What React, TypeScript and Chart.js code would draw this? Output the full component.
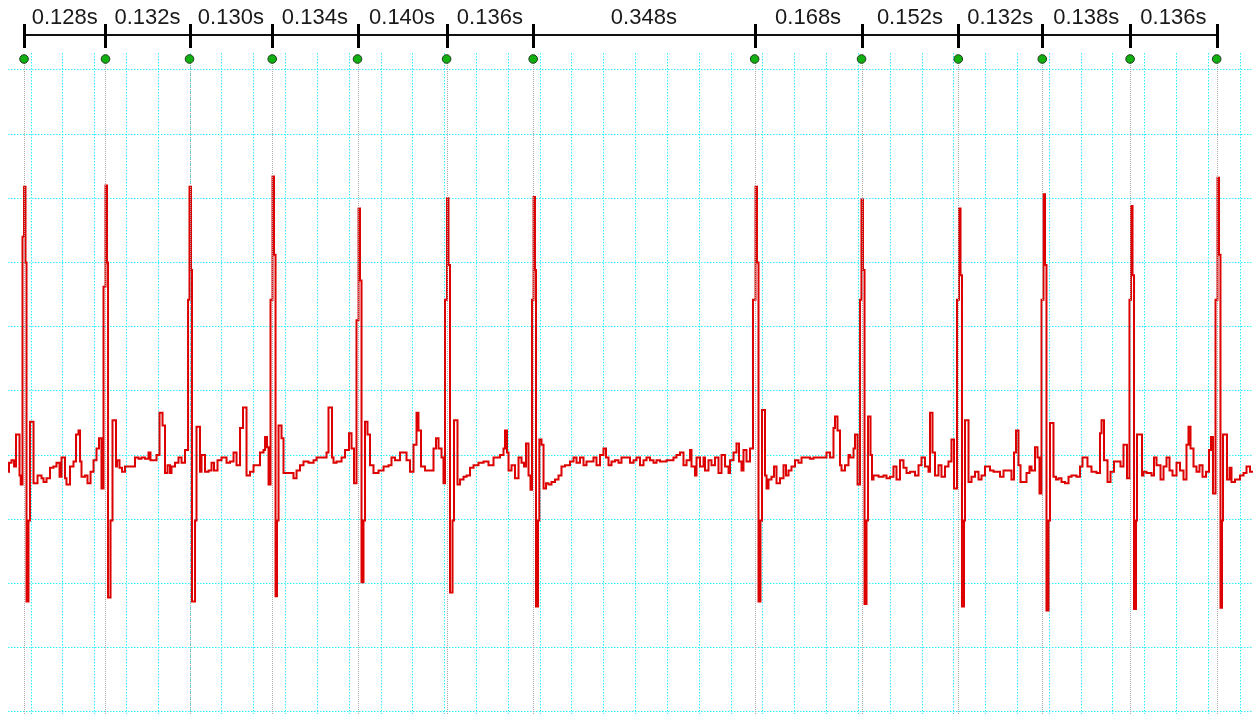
import { useEffect, useRef } from 'react';
import { Chart, registerables } from 'chart.js';

Chart.register(...registerables);

// Beat (R-peak marker) times in seconds
const beatTimes = [0.039, 0.167, 0.299, 0.429, 0.563, 0.703, 0.839, 1.187, 1.355, 1.507, 1.639, 1.777, 1.913];
// R-R interval labels shown between beats
const intervalLabels = ['0.128s', '0.132s', '0.130s', '0.134s', '0.140s', '0.136s', '0.348s', '0.168s', '0.152s', '0.132s', '0.138s', '0.136s'];
// Axis extents (seconds, mV) and grid steps
const timeRange = [0.0138, 1.9701];
const mvRange = [-2.017, 3.131];
const timeGridStep = 0.05;
const mvGridStep = 0.5;

// ECG trace: [time s, amplitude mV], sample-and-hold
const ecgSamples: [number, number][] = [
  [0.0138, -0.13], [0.0154, -0.06], [0.0193, -0.04], [0.0233, -0.09], [0.0264, 0.16], [0.0319, -0.16], [0.0338, -0.23],
  [0.0366, 1.70], [0.0390, 2.09], [0.0413, 1.50], [0.0429, -1.14], [0.0460, -0.51], [0.0484, 0.26], [0.0539, -0.22],
  [0.0602, -0.16], [0.0665, -0.18], [0.0696, -0.21], [0.0743, -0.18], [0.0798, -0.10], [0.0853, -0.09], [0.0900, -0.06],
  [0.0948, -0.17], [0.0979, -0.02], [0.1034, -0.18], [0.1057, -0.23], [0.1112, -0.09], [0.1167, -0.05], [0.1207, 0.16],
  [0.1246, 0.19], [0.1270, -0.05], [0.1293, -0.17], [0.1348, -0.16], [0.1387, -0.22], [0.1435, -0.13], [0.1482, -0.04],
  [0.1529, 0.05], [0.1568, 0.13], [0.1607, -0.26],
  [0.1639, 1.31], [0.1670, 2.10], [0.1694, 1.50], [0.1710, -1.11], [0.1749, -0.51], [0.1780, 0.27], [0.1835, -0.09],
  [0.1851, -0.04], [0.1890, -0.10], [0.1930, -0.13], [0.1977, -0.09], [0.2134, -0.02], [0.2189, -0.03], [0.2236, -0.02],
  [0.2291, -0.03], [0.2346, 0.02], [0.2377, -0.04], [0.2472, 0.00], [0.2519, 0.33], [0.2566, 0.23], [0.2605, -0.14],
  [0.2645, -0.08], [0.2684, -0.14], [0.2707, -0.09], [0.2762, -0.06], [0.2817, -0.02], [0.2865, -0.06], [0.2919, 0.04],
  [0.2967, 1.21], [0.2990, 2.09], [0.3014, 1.44], [0.3029, -1.14], [0.3077, -0.51], [0.3100, 0.22], [0.3155, -0.13],
  [0.3179, 0.00], [0.3234, -0.13], [0.3289, -0.12], [0.3336, -0.06], [0.3375, -0.12], [0.3430, -0.04], [0.3493, -0.02],
  [0.3572, -0.06], [0.3627, -0.05], [0.3682, 0.02], [0.3729, -0.08], [0.3784, 0.21], [0.3831, 0.37], [0.3886, -0.16],
  [0.3941, -0.13], [0.3996, -0.08], [0.4098, 0.02], [0.4153, 0.04], [0.4177, 0.14], [0.4208, 0.06], [0.4232, -0.23],
  [0.4263, 1.21], [0.4294, 2.17], [0.4318, 1.56], [0.4342, -1.10], [0.4365, -0.51], [0.4389, 0.23], [0.4436, 0.13],
  [0.4467, -0.14], [0.4624, -0.18], [0.4672, -0.12], [0.4726, -0.08], [0.4781, -0.05], [0.4860, -0.06], [0.4939, -0.04],
  [0.4986, -0.02], [0.5143, 0.02], [0.5174, 0.37], [0.5229, -0.02], [0.5253, -0.06], [0.5300, -0.05], [0.5379, -0.02],
  [0.5434, 0.04], [0.5496, 0.17], [0.5536, 0.05], [0.5575, -0.22],
  [0.5614, 1.05], [0.5646, 1.92], [0.5669, 1.36], [0.5693, -0.99], [0.5724, -0.51], [0.5748, 0.26], [0.5787, 0.16],
  [0.5826, -0.08], [0.5881, -0.14], [0.5960, -0.12], [0.6039, -0.09], [0.6117, -0.08], [0.6164, -0.02], [0.6219, -0.04],
  [0.6298, 0.02], [0.6353, 0.02], [0.6400, -0.04], [0.6455, -0.13], [0.6510, 0.08], [0.6557, 0.33], [0.6588, 0.19],
  [0.6628, -0.09], [0.6691, -0.12], [0.6824, 0.05], [0.6863, 0.13], [0.6903, 0.05], [0.6950, -0.02], [0.6981, -0.22],
  [0.7005, 1.21], [0.7036, 2.00], [0.7060, 1.48], [0.7083, -1.07], [0.7123, -0.51], [0.7146, 0.27], [0.7201, -0.23],
  [0.7241, -0.19], [0.7296, -0.17], [0.7343, -0.16], [0.7398, -0.10], [0.7453, -0.08], [0.7531, -0.06], [0.7610, -0.05],
  [0.7688, -0.08], [0.7767, -0.02], [0.7869, 0.00], [0.7924, 0.05], [0.7948, 0.19], [0.7979, 0.02], [0.8003, -0.12],
  [0.8050, -0.08], [0.8105, -0.18], [0.8160, -0.02], [0.8207, -0.06], [0.8246, -0.09], [0.8278, 0.09], [0.8317, -0.16],
  [0.8348, -0.27],
  [0.8372, 1.21], [0.8396, 2.01], [0.8419, 1.44], [0.8435, -1.18], [0.8466, -0.51], [0.8487, 0.12], [0.8521, 0.08],
  [0.8553, -0.26], [0.8592, -0.22], [0.8631, -0.23], [0.8678, -0.21], [0.8733, -0.19], [0.8788, -0.16], [0.8835, -0.09],
  [0.8890, -0.08], [0.8969, -0.05], [0.9024, -0.02], [0.9071, -0.06], [0.9126, -0.02], [0.9181, -0.08], [0.9228, -0.05],
  [0.9338, -0.02], [0.9385, -0.08], [0.9440, 0.00], [0.9495, 0.05], [0.9535, -0.02], [0.9574, -0.08], [0.9621, -0.05],
  [0.9676, -0.04], [0.9731, -0.06], [0.9778, -0.02], [0.9912, -0.06], [0.9967, -0.04], [1.0014, -0.02], [1.0069, -0.08],
  [1.0124, -0.04], [1.0171, -0.02], [1.0226, -0.04], [1.0281, -0.06], [1.0328, -0.04], [1.0383, -0.05], [1.0485, -0.04],
  [1.0595, -0.02], [1.0642, 0.00], [1.0697, 0.02], [1.0752, -0.08], [1.0800, -0.04], [1.0855, 0.04], [1.0878, -0.09],
  [1.0933, -0.16], [1.0957, -0.02], [1.1012, -0.09], [1.1067, -0.02], [1.1090, -0.12], [1.1145, -0.04], [1.1192, -0.08],
  [1.1247, -0.02], [1.1302, -0.14], [1.1350, 0.00], [1.1405, -0.09], [1.1460, -0.14], [1.1483, -0.04], [1.1538, 0.02],
  [1.1585, 0.09], [1.1624, -0.05], [1.1664, -0.12], [1.1695, 0.04], [1.1742, -0.05], [1.1797, 0.05],
  [1.1844, 1.21], [1.1884, 2.09], [1.1907, 1.50], [1.1931, -1.14], [1.1962, -0.51], [1.1986, 0.35], [1.2033, -0.16],
  [1.2057, -0.26], [1.2088, -0.19], [1.2135, -0.17], [1.2175, -0.09], [1.2214, -0.22], [1.2269, -0.18], [1.2324, -0.08],
  [1.2363, -0.16], [1.2402, -0.12], [1.2449, -0.09], [1.2504, -0.04], [1.2559, -0.06], [1.2607, -0.02], [1.2662, -0.02],
  [1.2740, -0.03], [1.2795, -0.02], [1.2999, 0.02], [1.3054, -0.02], [1.3109, 0.21], [1.3133, 0.30], [1.3172, 0.19],
  [1.3211, -0.08], [1.3235, -0.12], [1.3290, -0.08], [1.3345, 0.00], [1.3369, -0.02], [1.3424, 0.05], [1.3447, 0.16],
  [1.3487, -0.23],
  [1.3526, 1.21], [1.3549, 1.99], [1.3573, 1.44], [1.3597, -1.16], [1.3628, -0.51], [1.3652, 0.30], [1.3691, 0.00],
  [1.3714, -0.19], [1.3738, -0.16], [1.3817, -0.17], [1.3895, -0.16], [1.3942, -0.18], [1.3997, -0.17], [1.4052, -0.09],
  [1.4099, -0.19], [1.4154, -0.04], [1.4209, -0.10], [1.4257, -0.14], [1.4312, -0.13], [1.4390, -0.16], [1.4445, -0.08],
  [1.4492, -0.02], [1.4547, -0.09], [1.4602, -0.13], [1.4626, 0.33], [1.4665, 0.02], [1.4704, -0.16], [1.4759, -0.08],
  [1.4806, -0.17], [1.4861, -0.09], [1.4916, -0.05], [1.4963, 0.12], [1.5003, -0.26],
  [1.5050, 1.21], [1.5081, 1.92], [1.5105, 1.40], [1.5128, -1.18], [1.5160, -0.51], [1.5176, 0.27], [1.5231, -0.21],
  [1.5278, -0.17], [1.5333, -0.13], [1.5388, -0.19], [1.5435, -0.16], [1.5490, -0.09], [1.5569, -0.12], [1.5624, -0.13],
  [1.5726, -0.17], [1.5781, -0.12], [1.5906, -0.19], [1.5946, 0.02], [1.5977, 0.19], [1.6016, -0.08], [1.6048, -0.21],
  [1.6142, -0.14], [1.6189, -0.09], [1.6221, -0.12], [1.6276, 0.06], [1.6315, -0.02], [1.6346, -0.30],
  [1.6378, 1.21], [1.6409, 2.03], [1.6433, 1.48], [1.6456, -1.21], [1.6488, -0.51], [1.6511, 0.25], [1.6566, -0.17],
  [1.6605, -0.19], [1.6645, -0.18], [1.6692, -0.21], [1.6747, -0.22], [1.6802, -0.17], [1.6849, -0.16], [1.6928, -0.17],
  [1.6983, -0.09], [1.7022, -0.02], [1.7100, -0.09], [1.7163, -0.13], [1.7242, -0.14], [1.7297, 0.17], [1.7321, 0.27],
  [1.7360, -0.04], [1.7415, -0.21], [1.7462, -0.13], [1.7517, -0.05], [1.7619, -0.09], [1.7666, 0.08], [1.7721, -0.18],
  [1.7760, 1.21], [1.7784, 1.94], [1.7808, 1.40], [1.7831, -1.20], [1.7863, -0.51], [1.7878, 0.16], [1.7957, -0.16],
  [1.7980, -0.13], [1.8028, -0.14], [1.8106, -0.16], [1.8145, -0.02], [1.8185, -0.08], [1.8248, -0.19], [1.8295, -0.09],
  [1.8342, -0.02], [1.8389, -0.12], [1.8436, -0.16], [1.8499, -0.06], [1.8554, -0.12], [1.8609, -0.19], [1.8656, 0.08],
  [1.8687, 0.22], [1.8719, 0.05], [1.8766, -0.09], [1.8813, -0.13], [1.8860, -0.08], [1.8908, -0.17], [1.8963, -0.13],
  [1.9010, 0.04], [1.9041, 0.14], [1.9072, -0.30],
  [1.9112, 1.21], [1.9143, 2.16], [1.9167, 1.56], [1.9190, -1.19], [1.9214, -0.51], [1.9230, 0.16], [1.9292, -0.19],
  [1.9332, -0.10], [1.9363, -0.21], [1.9418, -0.19], [1.9497, -0.16], [1.9552, -0.14], [1.9599, -0.09], [1.9654, -0.13],
  [1.9701, -0.13],
];

const gridColor = '#2ff0ff';

function stepTicks(min: number, max: number, step: number) {
  const out: { value: number }[] = [];
  for (let k = Math.ceil(min / step - 1e-9); k * step <= max + 1e-9; k++) {
    out.push({ value: +(k * step).toFixed(6) });
  }
  return out;
}

const beatPlugin = {
  id: 'beatMarkers',
  afterDatasetsDraw(chart: any) {
    const { ctx, chartArea, scales } = chart;
    const xs = beatTimes.map((t) => scales.x.getPixelForValue(t));
    ctx.save();
    // gray dotted beat lines
    ctx.strokeStyle = '#a9a9a9';
    ctx.lineWidth = 1;
    ctx.setLineDash([1, 1]);
    xs.forEach((x) => {
      const px = Math.round(x) + 0.5;
      ctx.beginPath();
      ctx.moveTo(px, chartArea.top + 10);
      ctx.lineTo(px, chartArea.bottom);
      ctx.stroke();
    });
    ctx.setLineDash([]);
    // ruler line
    ctx.strokeStyle = '#111';
    ctx.lineWidth = 2;
    ctx.beginPath();
    ctx.moveTo(xs[0], 35);
    ctx.lineTo(xs[xs.length - 1], 35);
    ctx.stroke();
    // ruler ticks
    ctx.fillStyle = '#000';
    xs.forEach((x) => ctx.fillRect(Math.round(x) - 1, 24, 3, 24));
    // interval labels
    ctx.font = '22px "Liberation Sans", Arial, sans-serif';
    ctx.textAlign = 'center';
    ctx.textBaseline = 'alphabetic';
    ctx.fillStyle = '#1a1a1a';
    intervalLabels.forEach((label, i) => {
      ctx.fillText(label, (xs[i] + xs[i + 1]) / 2, 24);
    });
    // green beat dots
    xs.forEach((x) => {
      ctx.beginPath();
      ctx.arc(x, chartArea.top + 6, 4.3, 0, Math.PI * 2);
      ctx.fillStyle = '#0fb00f';
      ctx.fill();
      ctx.lineWidth = 1;
      ctx.strokeStyle = '#1e3a1e';
      ctx.stroke();
    });
    ctx.restore();
  },
};

export default function App() {
  const canvasRef = useRef<HTMLCanvasElement | null>(null);

  useEffect(() => {
    if (!canvasRef.current) return;
    const chart = new Chart(canvasRef.current, {
      type: 'line',
      data: {
        datasets: [
          {
            data: ecgSamples.map(([x, y]) => ({ x, y })),
            borderColor: '#dd0000',
            borderWidth: 2,
            pointRadius: 0,
            stepped: true,
            fill: false,
            tension: 0,
          },
        ],
      },
      options: {
        animation: false,
        responsive: false,
        events: [],
        layout: { padding: { left: 8, top: 53, right: 0, bottom: 0 } },
        plugins: { legend: { display: false }, tooltip: { enabled: false } },
        scales: {
          x: {
            type: 'linear',
            min: timeRange[0],
            max: timeRange[1],
            afterBuildTicks: (scale: any) => {
              scale.ticks = stepTicks(timeRange[0], timeRange[1], timeGridStep);
            },
            ticks: { display: false },
            grid: { color: gridColor, lineWidth: 1, drawTicks: false, tickLength: 0 },
            border: { display: false, dash: [1.5, 1.5] },
          },
          y: {
            type: 'linear',
            min: mvRange[0],
            max: mvRange[1],
            afterBuildTicks: (scale: any) => {
              scale.ticks = stepTicks(mvRange[0], mvRange[1], mvGridStep);
            },
            ticks: { display: false },
            grid: { color: gridColor, lineWidth: 1, drawTicks: false, tickLength: 0 },
            border: { display: false, dash: [1.5, 1.5] },
          },
        },
      },
      plugins: [beatPlugin],
    });
    return () => chart.destroy();
  }, []);

  return (
    <div style={{ position: 'fixed', left: 0, top: 0, width: 1253, height: 714, background: '#fff' }}>
      <canvas ref={canvasRef} width={1253} height={714} />
    </div>
  );
}
